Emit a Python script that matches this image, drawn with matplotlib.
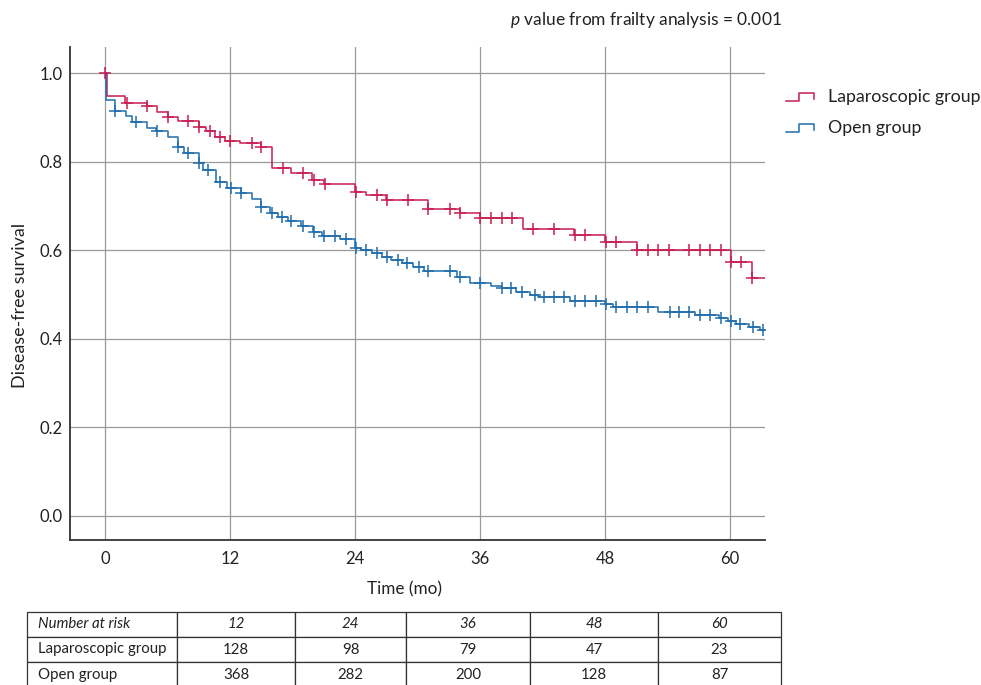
import numpy as np
import matplotlib
matplotlib.use("Agg")
import matplotlib.pyplot as plt
from matplotlib.lines import Line2D
from matplotlib.legend_handler import HandlerBase

plt.rcParams['font.family'] = ['Lato', 'DejaVu Sans']
plt.rcParams['mathtext.fontset'] = 'custom'
plt.rcParams['mathtext.rm'] = 'Lato'
plt.rcParams['mathtext.it'] = 'Lato:italic'

# ---------------- data ----------------
lap_times = [0, 0.15, 1.9, 4.0, 5.0, 6.0, 7.0, 9.0, 9.7, 10.6, 11.5, 13.0, 15.0, 16.0,
             17.9, 19.9, 21.0, 24.0, 25.1, 27.0, 31.0, 34.1, 36.0, 40.1, 45.0, 48.0,
             51.1, 60.1, 62.1]
lap_surv = [1.0, 0.947, 0.933, 0.925, 0.913, 0.900, 0.892, 0.879, 0.868, 0.856, 0.847,
            0.841, 0.832, 0.785, 0.775, 0.758, 0.749, 0.731, 0.725, 0.713, 0.693, 0.683,
            0.673, 0.647, 0.634, 0.618, 0.600, 0.574, 0.538]
lap_censor = [0, 2.1, 4.0, 6.0, 8.0, 9.0, 10.1, 11.0, 12.0, 14.1, 15.0, 17.1, 19.0, 20.1,
              21.1, 24.1, 26.1, 27.1, 29.1, 31.0, 33.1, 34.1, 36.0, 37.1, 38.1, 39.1,
              41.1, 43.1, 45.1, 46.1, 48.1, 49.1, 51.1, 52.1, 53.1, 54.1, 56.1, 57.1,
              58.1, 59.1, 60.1, 61.1, 62.1]

open_times = [0, 0.1, 1.0, 2.0, 2.6, 4.0, 4.9, 6.0, 7.0, 7.6, 9.0, 9.4, 10.7, 11.7, 13.1,
              14.1, 15.0, 15.8, 16.6, 17.6, 18.8, 20.0, 20.8, 22.6, 24.0, 24.6, 25.6,
              26.6, 27.5, 28.5, 29.6, 30.6, 33.8, 35.0, 37.1, 38.1, 39.5, 40.8, 41.6,
              44.6, 48.0, 48.8, 53.1, 56.6, 58.9, 59.8, 60.6, 61.8, 62.9]
open_surv = [1.0, 0.939, 0.915, 0.903, 0.890, 0.875, 0.869, 0.856, 0.834, 0.819, 0.796,
             0.782, 0.755, 0.741, 0.728, 0.715, 0.698, 0.685, 0.676, 0.666, 0.654, 0.642,
             0.632, 0.625, 0.606, 0.600, 0.593, 0.585, 0.578, 0.570, 0.563, 0.553, 0.540,
             0.527, 0.520, 0.515, 0.506, 0.499, 0.494, 0.486, 0.478, 0.471, 0.461, 0.454,
             0.446, 0.441, 0.433, 0.426, 0.420]
open_censor = [1.0, 3.0, 5.0, 7.0, 8.0, 9.0, 9.9, 11.0, 12.1, 13.1, 15.0, 16.0, 17.0, 17.9,
               19.0, 20.1, 21.0, 22.1, 23.1, 24.1, 25.1, 26.1, 27.1, 28.1, 29.0, 30.1,
               31.0, 33.1, 34.1, 36.0, 38.1, 39.0, 40.0, 41.3, 42.1, 43.1, 44.1, 45.1,
               46.1, 47.1, 48.1, 49.1, 50.1, 51.1, 52.1, 54.2, 55.1, 56.1, 57.1, 58.1,
               59.1, 60.1, 61.0, 62.2, 63.2]

x_end = 63.4
x_ticks = [0, 12, 24, 36, 48, 60]
y_ticks = [0.0, 0.2, 0.4, 0.6, 0.8, 1.0]

risk_header = ["Number at risk", "12", "24", "36", "48", "60"]
risk_lap = ["Laparoscopic group", "128", "98", "79", "47", "23"]
risk_open = ["Open group", "368", "282", "200", "128", "87"]

RED = '#c81e52'
BLUE = '#1f6dab'

W, H = 981, 685
fig = plt.figure(figsize=(W / 100, H / 100), dpi=100)
ax = fig.add_axes([70 / W, 1 - 540 / H, (765 - 70) / W, (540 - 47) / H])

def step_curve(times, surv, censor, color, label):
    t = np.array(times + [x_end])
    s = np.array(surv + [surv[-1]])
    line, = ax.step(t, s, where='post', color=color, lw=1.1, label=label, zorder=3)
    c = np.array(censor)
    idx = np.searchsorted(np.array(times), c, side='right') - 1
    cs = np.array(surv)[idx]
    ax.plot(c, cs, ls='none', marker='+', ms=9, mew=1.1, color=color, zorder=4)
    return line

l1 = step_curve(lap_times, lap_surv, lap_censor, RED, "Laparoscopic group")
l2 = step_curve(open_times, open_surv, open_censor, BLUE, "Open group")

ax.set_xlim(-3.36, 63.36)
ax.set_ylim(-0.0542, 1.0587)
ax.set_xticks(x_ticks)
ax.set_yticks(y_ticks)
ax.set_yticklabels([f"{v:.1f}" for v in y_ticks])
ax.grid(True, color='#9a9a9a', lw=0.9)
ax.set_axisbelow(True)
for sp in ['top', 'right']:
    ax.spines[sp].set_visible(False)
for sp in ['left', 'bottom']:
    ax.spines[sp].set_color('#333333')
    ax.spines[sp].set_linewidth(1.3)
ax.tick_params(length=0, labelsize=12, colors='#222222')
ax.tick_params(axis='y', pad=5)
ax.tick_params(axis='x', pad=8)

ax.set_ylabel("Disease-free survival", fontsize=12.9, color='#222222')
ax.yaxis.set_label_coords(-0.060, 0.475)
ax.set_xlabel("Time (mo)", fontsize=12.3, color='#222222')
ax.xaxis.set_label_coords(0.482, -0.083)

fig.text(782 / W, 1 - 20 / H, "$p$ value from frailty analysis = 0.001",
         ha='right', va='center', fontsize=12.5, color='#222222')


class StepHandler(HandlerBase):
    def create_artists(self, legend, orig_handle, xdescent, ydescent, width,
                       height, fontsize, trans):
        x0, y0 = -xdescent, -ydescent
        xs = [x0, x0 + 0.45 * width, x0 + 0.45 * width, x0 + width, x0 + width]
        ys = [y0 + 0.1 * height, y0 + 0.1 * height, y0 + 0.75 * height,
              y0 + 0.75 * height, y0 + 0.25 * height]
        ln = Line2D(xs, ys, color=orig_handle.get_color(), lw=1.1, transform=trans)
        return [ln]


fig.legend(handles=[l1, l2], loc='upper left', bbox_to_anchor=(786 / W, 1 - 89 / H),
           frameon=False, fontsize=12.8, handlelength=1.6, handletextpad=0.75,
           labelspacing=0.85, borderpad=0, borderaxespad=0,
           handler_map={Line2D: StepHandler()}, labelcolor='#222222')

# ---------------- number-at-risk table ----------------
tax = fig.add_axes([27 / W, 1 - 687 / H, (781 - 27) / W, (687 - 612) / H])
tax.axis('off')
col_w = np.array([150, 118, 111, 124, 128, 123], dtype=float)
col_w = col_w / col_w.sum()
tbl = tax.table(cellText=[risk_header, risk_lap, risk_open], colWidths=list(col_w),
                bbox=[0, 0, 1, 1], cellLoc='center')
tbl.auto_set_font_size(False)
for (r, c), cell in tbl.get_celld().items():
    cell.set_edgecolor('#333333')
    cell.set_linewidth(0.9)
    cell.set_text_props(fontsize=10.8, color='#222222')
    if r == 0:
        cell.get_text().set_fontstyle('italic')
    if c == 0:
        cell._loc = 'left'
        cell.PAD = 0.073
        cell.get_text().set_horizontalalignment('left')

fig.savefig("out.png", dpi=100)
